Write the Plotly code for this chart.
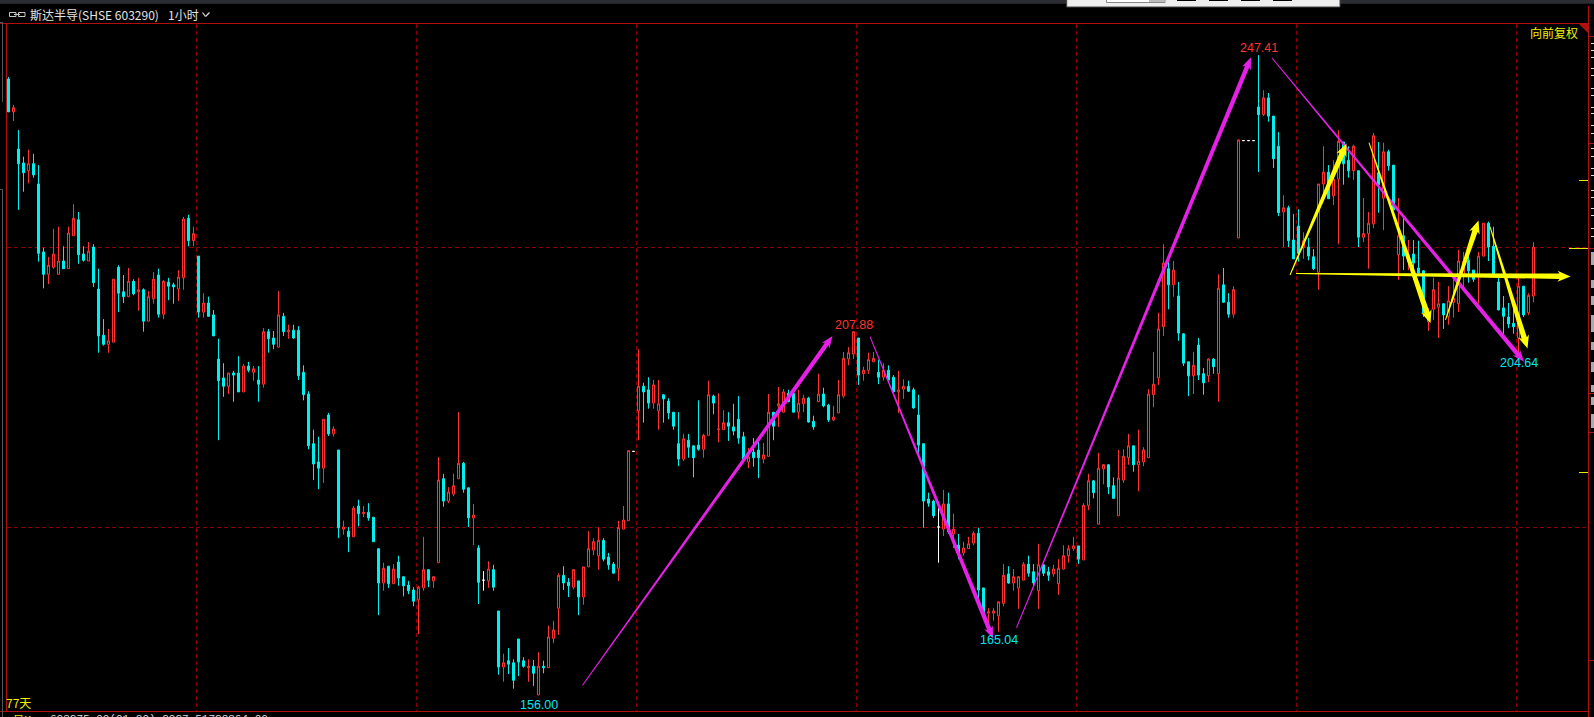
import plotly.graph_objects as go

opens = [244.0,239.3,234.0,232.0,230.9,231.9,229.0,219.3,216.1,217.1,
216.1,218.0,216.9,221.6,223.9,219.0,218.0,220.0,214.0,207.4,
206.1,206.4,217.1,213.6,212.9,215.1,213.6,213.9,209.4,212.6,
216.0,210.4,215.0,214.6,214.0,215.6,224.1,220.9,218.7,210.7,
212.0,210.3,204.0,201.3,200.1,202.0,202.0,199.3,203.0,202.1,
201.0,200.4,207.9,207.0,205.7,210.1,207.9,208.1,208.1,202.1,
199.0,191.9,189.3,188.4,196.0,193.3,191.0,179.7,179.4,178.6,
183.0,181.9,182.1,181.4,176.9,172.0,174.4,171.9,175.0,172.9,
171.7,171.0,169.6,171.3,173.9,172.3,174.9,186.9,183.7,184.7,
186.9,189.1,185.6,181.3,177.0,172.4,172.3,173.9,168.0,160.0,
160.9,160.6,164.0,160.9,159.9,160.1,156.0,160.1,159.9,164.1,
168.4,173.1,172.1,171.4,172.3,170.0,174.3,176.7,175.9,178.1,
175.7,174.7,174.1,179.7,180.9,190.8,196.6,200.1,199.6,197.7,
196.6,198.9,198.0,196.4,191.9,189.7,192.4,191.6,191.7,191.1,
193.1,198.7,193.9,193.9,194.9,194.3,195.4,192.9,189.3,190.7,
191.0,189.7,190.1,196.4,197.3,196.4,199.1,199.1,196.4,197.6,
198.4,195.1,197.9,199.0,197.4,195.3,196.3,198.7,204.0,204.7,
207.0,201.9,202.4,203.6,202.1,201.4,202.4,201.4,199.3,199.7,
200.1,199.6,196.0,191.9,184.0,183.7,180.0,179.7,183.3,179.0,
177.4,176.3,176.9,177.7,179.1,171.3,167.7,167.7,167.3,169.1,
173.3,172.0,171.3,172.4,174.7,173.6,170.9,174.6,173.6,173.3,
171.9,174.0,175.9,176.9,177.3,175.3,183.1,186.6,180.4,188.3,
188.9,185.9,181.6,186.7,189.9,191.6,188.9,189.3,189.9,198.9,
201.3,208.6,216.9,214.6,213.0,207.6,203.6,201.6,206.0,201.9,
201.6,204.0,201.9,214.6,212.1,210.4,221.3,235.2,235.2,235.2,
240.0,238.9,241.3,238.7,234.4,225.0,225.6,221.0,223.0,219.9,
220.0,218.6,216.4,229.0,230.7,227.3,229.7,235.0,232.4,230.9,
230.9,221.4,221.9,223.3,230.6,227.0,233.6,231.7,218.9,221.6,
217.9,219.0,217.0,216.6,209.3,211.1,211.4,211.9,210.1,212.1,
211.9,215.9,218.1,216.7,216.0,218.7,223.4,220.1,215.0,211.3,
210.0,209.1,207.0,214.4,210.6,213.0]

highs = [244.3,240.3,236.7,232.9,233.9,233.3,231.7,219.9,218.6,222.6,
222.9,220.1,222.9,226.1,225.0,220.1,220.7,220.4,216.9,209.7,
208.3,215.4,217.4,216.0,217.0,215.4,215.6,214.1,213.7,216.4,
216.9,215.3,215.6,214.9,216.7,224.3,224.6,222.9,218.7,213.4,
212.9,211.0,206.9,203.4,202.0,202.3,204.4,203.3,203.6,203.0,
203.0,208.4,208.3,208.0,213.7,210.6,208.9,208.9,208.7,203.1,
199.4,193.9,192.9,195.4,196.3,194.4,191.0,180.9,180.0,183.0,
183.9,183.0,183.4,181.4,176.9,174.9,174.4,174.7,175.9,172.9,
172.3,171.4,171.6,178.6,174.0,173.0,190.0,187.6,185.7,187.6,
196.4,189.3,185.6,183.3,177.4,173.7,175.1,174.6,168.0,161.9,
162.7,161.1,164.0,161.4,161.1,161.0,162.1,160.9,165.9,166.6,
173.4,174.4,172.7,174.0,172.3,174.3,179.4,178.4,179.9,178.4,
176.3,175.0,180.9,183.0,190.9,190.8,205.4,200.6,201.4,201.0,
201.0,198.9,198.4,196.4,196.4,193.3,193.3,191.6,198.1,193.3,
200.9,198.9,199.1,196.7,196.4,197.6,198.7,193.6,191.3,192.7,
192.3,192.0,199.0,196.4,200.0,199.7,199.6,199.1,199.6,198.9,
198.6,195.9,201.9,199.9,197.6,197.3,201.0,205.0,205.7,207.88,
207.0,202.9,204.9,205.0,203.9,203.4,203.1,201.7,202.3,201.1,
200.9,199.9,198.9,191.9,184.9,183.9,182.7,185.3,184.9,181.9,
179.0,177.9,178.6,179.4,179.9,171.3,168.4,168.4,169.4,174.7,
174.4,174.0,172.9,175.0,175.9,174.7,177.6,174.6,174.3,174.6,
175.4,177.4,177.4,178.6,177.3,183.4,187.6,186.7,190.6,189.0,
188.9,187.1,191.0,191.1,193.3,191.6,193.9,191.4,199.7,205.0,
210.6,220.4,217.9,218.0,215.0,207.7,203.6,205.0,207.0,202.7,
204.1,204.1,216.1,217.0,213.4,214.4,235.3,235.2,235.2,235.2,
247.41,242.4,242.0,238.7,236.4,227.4,225.9,224.7,225.4,222.1,
221.3,219.7,229.0,234.4,231.7,232.4,236.7,235.0,234.4,234.6,
230.9,227.0,225.0,236.3,235.0,234.9,233.9,231.7,227.0,224.1,
221.0,221.0,220.9,216.7,211.3,215.6,215.0,211.9,214.4,215.9,
219.6,219.3,218.9,216.7,219.3,223.4,223.6,222.9,216.0,213.0,
212.0,211.1,215.6,214.4,213.4,220.7]

lows = [239.3,238.0,225.3,227.9,229.1,229.9,217.9,214.1,214.7,216.9,
216.1,216.9,216.9,221.6,217.6,217.9,218.0,214.3,204.9,205.9,
204.9,206.4,210.7,212.0,212.9,213.1,210.9,207.9,209.4,211.9,
209.9,209.7,212.4,211.9,212.3,213.9,220.1,220.1,209.9,209.9,
210.1,207.3,192.4,198.6,199.0,197.9,199.3,199.3,202.1,200.9,
197.9,199.9,204.9,205.4,205.7,207.3,206.9,206.9,201.0,198.1,
191.1,186.7,185.4,186.3,193.0,192.9,178.4,178.9,176.4,178.6,
180.1,181.4,180.9,177.9,167.4,170.9,171.3,171.9,171.6,170.1,
170.4,168.7,164.7,170.9,171.4,171.3,174.9,182.9,183.4,184.4,
186.9,184.9,180.0,177.4,169.0,170.9,171.3,170.9,158.9,157.9,
159.0,156.9,158.7,159.9,157.9,157.3,156.0,159.1,159.9,163.4,
164.6,171.0,170.0,171.1,167.4,168.9,174.3,176.0,173.9,175.1,
173.9,173.4,172.3,179.7,180.9,190.8,192.4,194.9,196.9,196.9,
193.9,194.9,195.4,193.9,188.7,189.4,189.9,187.1,190.9,189.9,
193.1,196.1,192.1,193.9,192.3,193.1,191.9,189.6,188.4,188.6,
187.0,189.1,190.1,192.4,194.3,196.4,197.9,196.4,195.4,196.4,
194.9,193.9,197.9,197.1,195.0,195.1,196.3,198.4,203.1,204.0,
200.3,200.9,201.9,203.6,200.4,200.9,200.9,199.3,196.3,198.3,
199.3,196.9,190.3,179.9,182.9,181.3,174.9,178.7,179.0,177.0,
175.4,175.9,176.9,177.4,168.9,166.7,166.0,166.6,165.04,168.7,
171.9,170.9,168.3,172.4,172.9,171.6,168.3,173.0,172.3,172.9,
170.3,173.9,174.9,176.6,174.7,175.3,182.4,184.1,180.4,186.1,
184.7,184.0,181.6,186.3,188.9,187.9,185.1,188.7,189.9,197.1,
200.3,207.3,211.1,212.9,206.6,203.0,198.7,199.0,201.0,198.9,
200.7,201.9,197.9,212.1,209.9,209.9,221.3,235.2,235.2,235.2,
230.7,238.7,237.9,231.3,224.4,220.0,220.0,218.3,217.9,218.3,
218.1,216.7,213.9,226.7,226.9,226.0,220.4,228.9,229.9,229.6,
220.0,220.7,216.9,222.7,224.9,222.4,230.9,225.3,215.3,216.7,
216.7,215.3,216.3,210.0,208.0,209.6,207.0,208.3,208.9,209.9,
210.7,213.9,214.9,215.0,211.9,218.7,218.0,216.0,211.0,207.6,
208.4,207.6,204.64,210.0,210.3,212.1]

closes = [239.3,239.9,231.9,230.6,231.9,230.3,219.1,216.1,217.4,219.0,
218.0,216.9,222.0,224.1,218.9,218.1,219.4,214.9,207.3,206.1,
206.6,215.4,213.4,212.9,215.1,213.3,213.9,209.4,212.9,215.4,
210.4,215.1,214.4,214.3,215.7,224.0,220.9,221.9,210.7,212.0,
210.1,207.3,200.9,200.1,202.0,201.7,199.3,203.0,202.4,202.6,
200.4,207.9,206.9,206.1,210.3,207.9,208.1,207.0,201.6,198.9,
191.6,189.0,188.4,195.4,193.3,194.0,179.9,180.0,178.6,182.7,
181.9,182.1,181.3,177.9,172.0,174.1,171.9,174.0,172.7,171.6,
170.9,169.4,171.4,173.9,172.4,172.9,186.7,183.7,185.0,185.9,
189.1,185.4,181.3,181.7,172.1,172.4,174.0,171.4,160.0,160.6,
160.4,158.1,160.7,160.1,160.1,159.1,160.1,159.9,164.3,165.3,
173.1,172.0,171.6,173.9,170.0,174.3,176.9,177.9,178.1,175.4,
174.6,173.4,179.9,181.0,190.9,190.8,200.1,199.3,197.7,200.3,
197.6,198.3,196.3,194.4,189.7,192.6,191.4,189.9,191.1,193.1,
198.9,197.7,194.0,194.9,194.4,193.7,192.7,189.6,190.0,189.9,
189.9,190.3,196.4,194.4,197.6,199.3,197.9,196.4,197.7,198.4,
195.0,194.3,199.0,197.3,195.3,195.7,198.9,204.1,204.9,207.9,
201.7,202.4,203.9,204.1,201.4,202.4,201.0,199.3,199.6,200.1,
199.4,197.0,191.7,183.7,183.4,181.6,180.0,183.3,179.3,179.7,
176.3,177.0,177.6,179.1,171.0,167.4,167.9,168.0,169.3,173.1,
172.0,172.9,172.9,174.7,173.4,172.0,174.6,173.4,173.1,174.0,
174.1,175.9,176.9,177.3,175.4,183.1,186.6,184.9,188.4,188.9,
185.7,184.1,187.0,190.1,191.6,188.9,189.4,191.0,199.0,200.4,
208.3,217.7,214.6,216.7,207.7,203.4,201.6,203.1,201.7,200.6,
204.0,202.9,214.1,212.1,210.4,213.9,235.3,235.2,235.2,235.2,
238.9,241.3,238.7,232.6,224.9,225.6,220.9,218.3,219.1,220.9,
218.7,216.9,229.0,230.7,226.9,229.7,235.1,231.9,230.9,234.4,
221.4,221.9,223.4,235.9,228.9,233.6,231.6,225.3,221.6,218.7,
218.9,217.7,216.3,210.6,210.6,213.9,211.9,210.3,212.3,212.7,
218.0,217.9,216.6,215.4,218.7,223.4,220.0,216.0,211.0,210.1,
209.0,208.6,214.4,210.3,213.1,220.0]

# (candle index, price) -> (candle index, price): trend arrows drawn on the chart
magenta_arrows = [(114.8,157.4,164.8,207.3),(172.3,207.2,196.9,164.1),
                  (201.6,165.6,248.5,247.1),(252.7,247.0,303.1,203.6)]
yellow_arrows = [(256.3,216.0,267.6,234.8),(272.1,234.9,284.4,209.1),
                 (287.4,209.6,294.0,223.8),(296.3,222.9,303.8,205.5),
                 (257.5,216.2,312.4,215.8)]
# labels: index, price position, text, colour
labels = [(250,248.4,"247.41","#ff3333"),(169.1,208.9,"207.88","#ff3333"),
          (198,163.9,"165.04","#00e6f0"),(106,154.6,"156.00","#00e6f0"),
          (302,203.4,"204.64","#00e6f0")]

W, H = 1594, 717
X0, DX, PX_PER_PRICE, Y_OFF = 8.5, 5.0, 7.0, 1787.0
BG, RED, CYAN = "#000000", "#ff3333", "#00f0f0"
BORDER, GRID = "#b01010", "#8c0000"

def x_px(i): return X0 + DX * i
def y_px(p): return Y_OFF - PX_PER_PRICE * p
def x_dat(x): return (x - X0) / DX
def y_dat(y): return (Y_OFF - y) / PX_PER_PRICE
def fx(x): return x / W
def fy(y): return 1 - y / H

idx = list(range(len(opens)))
flat = [i for i in idx if opens[i] == closes[i]]
keep = [i for i in idx if opens[i] != closes[i]]

fig = go.Figure()
fig.add_trace(go.Candlestick(
    x=keep, open=[opens[i] for i in keep], high=[highs[i] for i in keep],
    low=[lows[i] for i in keep], close=[closes[i] for i in keep],
    increasing=dict(line=dict(color=RED, width=1), fillcolor=BG),
    decreasing=dict(line=dict(color=CYAN, width=1), fillcolor=CYAN),
    whiskerwidth=0, hoverinfo="skip", showlegend=False))
fig.add_trace(go.Candlestick(
    x=flat, open=[opens[i] for i in flat], high=[highs[i] for i in flat],
    low=[lows[i] for i in flat], close=[closes[i] for i in flat],
    increasing=dict(line=dict(color="#ffffff", width=1), fillcolor="#ffffff"),
    decreasing=dict(line=dict(color="#ffffff", width=1), fillcolor="#ffffff"),
    whiskerwidth=0, hoverinfo="skip", showlegend=False))

shapes, annots = [], []

def rect(x0, y0, x1, y1, fill, line=None, layer="below", lw=1):
    shapes.append(dict(type="rect", xref="paper", yref="paper", x0=fx(x0), x1=fx(x1),
                       y0=fy(y0), y1=fy(y1), fillcolor=fill, layer=layer,
                       line=dict(color=line or fill, width=lw if line else 0)))

def seg(x0, y0, x1, y1, color, dash=None, layer="below", lw=1):
    shapes.append(dict(type="line", xref="paper", yref="paper", x0=fx(x0), x1=fx(x1),
                       y0=fy(y0), y1=fy(y1), layer=layer,
                       line=dict(color=color, width=lw, dash=dash or "solid")))

def text(x, y, s, color, size=12, anchor="left", family="Noto Sans CJK SC"):
    annots.append(dict(xref="paper", yref="paper", x=fx(x), y=fy(y), text=s, showarrow=False,
                       xanchor=anchor, yanchor="middle", font=dict(color=color, size=size, family=family),
                       borderpad=0, borderwidth=0))

# grid
for x in (196.5, 416.5, 636.5, 856.5, 1076.5, 1296.5, 1516.5):
    seg(x, 24, x, 711, GRID, dash="4px,3px")
for y in (247.5, 527.5):
    seg(7, y, 1588, y, GRID, dash="4px,3px")

# frame
seg(0, 23.5, 1588.5, 23.5, BORDER)
seg(0, 711.5, 1588.5, 711.5, BORDER)
seg(6.5, 23.5, 6.5, 711.5, BORDER)
seg(1588.5, 6, 1588.5, 717, BORDER)
rect(0, 0, W, 3.7, "#2b2d33")
seg(0, 22.5, 2.5, 22.5, "#555555"); seg(2.5, 22, 2.5, 102, "#555555")
seg(0, 189.5, 2.5, 189.5, "#555555"); seg(2.5, 189, 2.5, 717, "#555555")

# toolbar popup cropped at the top
rect(1066.7, -1, 1340, 7, "#eeeeee", "#444444", layer="above")
rect(1106.5, -1, 1165, 2.5, "#ffffff", "#888888", layer="above")
rect(1149, -1, 1165, 2, "#bbbbbb", layer="above")
for x0 in (1177, 1209, 1241, 1273):
    rect(x0, -1, x0 + 19, 1, "#000000", layer="above")

# title icon
rect(9.5, 12.5, 16, 16.5, BG, "#c8c8c8", layer="above")
rect(18.5, 12.5, 25, 16.5, BG, "#c8c8c8", layer="above")
seg(14, 14.5, 20, 14.5, "#c8c8c8", layer="above")
seg(202.5, 12.5, 205.5, 16.5, "#d8d8d8", layer="above", lw=1.2)
seg(205.5, 16.5, 209.5, 12.5, "#d8d8d8", layer="above", lw=1.2)

# right scale stubs
for y in (36.5, 143.5, 248.5, 393.5, 432.5, 660.5):
    seg(1588.5, y, 1594, y, BORDER)
for y in (180.5, 472.5):
    seg(1579, y, 1588, y, "#e6e600")
seg(1569, 248.5, 1588, 248.5, "#e6e600")
for y in (43, 50, 57, 68, 75, 88, 95, 107, 113, 125, 133, 148, 156, 168, 175, 190, 197, 208, 215, 228, 236):
    seg(1591, y + 0.5, 1594, y + 0.5, "#dddddd")
for y0, y1 in ((252, 265), (280, 288), (296, 305), (315, 332), (342, 350), (362, 372), (385, 392), (397, 405), (414, 428)):
    rect(1591, y0, 1594, y1, "#aaaaaa")
shapes.append(dict(type="path", xref="paper", yref="paper", layer="above", fillcolor="#b01010",
                   line=dict(width=0),
                   path=f"M {fx(1579)} {fy(24)} L {fx(1588)} {fy(24)} L {fx(1588)} {fy(33)} Z"))

# trend arrows
def arrow(i0, p0, i1, p1, color, w1, hl=10.0, hw=9.5, w0=1.0):
    x0, y0, x1, y1 = x_px(i0), y_px(p0), x_px(i1), y_px(p1)
    L = ((x1 - x0) ** 2 + (y1 - y0) ** 2) ** 0.5
    ux, uy = (x1 - x0) / L, (y1 - y0) / L
    nx, ny = -uy, ux
    bx, by = x1 - ux * hl, y1 - uy * hl
    pts = [(x0 + nx * w0 / 2, y0 + ny * w0 / 2), (bx + nx * w1 / 2, by + ny * w1 / 2),
           (bx + nx * hw / 2 - ux * 2, by + ny * hw / 2 - uy * 2), (x1, y1),
           (bx - nx * hw / 2 - ux * 2, by - ny * hw / 2 - uy * 2),
           (bx - nx * w1 / 2, by - ny * w1 / 2), (x0 - nx * w0 / 2, y0 - ny * w0 / 2)]
    path = "M " + " L ".join(f"{x_dat(a):.3f} {y_dat(b):.3f}" for a, b in pts) + " Z"
    shapes.append(dict(type="path", xref="x", yref="y", path=path, fillcolor=color,
                       line=dict(width=0), layer="above"))

for a in magenta_arrows:
    arrow(*a, "#e620e6", 4.5)
for a in yellow_arrows:
    arrow(*a, "#ffff00", 5.5, hl=11.0, hw=11.0)

# texts
for i, p, s, c in labels:
    annots.append(dict(xref="x", yref="y", x=i, y=p, text=s, showarrow=False, xanchor="center",
                       yanchor="middle", font=dict(color=c, size=12.5, family="Liberation Sans"), borderpad=0))
text(29.7, 14, "斯达半导(SHSE 603290)", "#e4e4e4", size=12)
text(168, 14, "1小时", "#e4e4e4", size=12)
text(1578, 32, "向前复权", "#f0f000", size=12, anchor="right")
text(6, 702, "77天", "#f0f000", size=12)
text(13, 719, "日K", "#f0f000", size=11)
text(50, 719, "603275.00(01-30) 2027.51728364.00", "#dddddd", size=11, family="Liberation Mono")

fig.update_layout(
    width=W, height=H, margin=dict(l=0, r=0, t=0, b=0), paper_bgcolor=BG, plot_bgcolor=BG,
    boxgap=0.6, boxgroupgap=0, showlegend=False, shapes=shapes, annotations=annots,
    xaxis=dict(visible=False, range=[x_dat(0), x_dat(W)], fixedrange=True, rangeslider=dict(visible=False)),
    yaxis=dict(visible=False, range=[y_dat(H), y_dat(0)], fixedrange=True),
)
fig.write_html("out.html", config=dict(displayModeBar=False),
               post_script="document.body.style.margin='0';document.body.style.background='#000';document.body.style.overflow='hidden';")
